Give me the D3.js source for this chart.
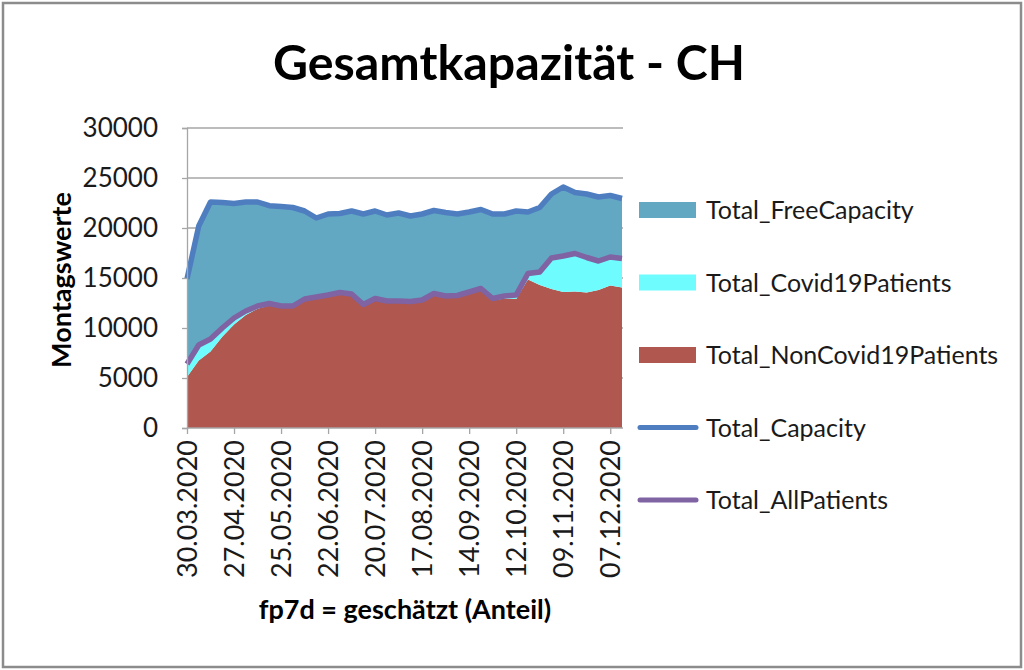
<!DOCTYPE html>
<html>
<head>
<meta charset="utf-8">
<script src="https://cdn.jsdelivr.net/npm/d3@7"></script>
<style>
  html, body { margin: 0; padding: 0; background: #fff; }
  svg { display: block; font-family: Lato, "Open Sans", sans-serif; }
</style>
</head>
<body>
<svg id="chart" width="1024" height="670"></svg>
<script>
const dates = ["30.03.2020","06.04.2020","13.04.2020","20.04.2020","27.04.2020","04.05.2020","11.05.2020","18.05.2020","25.05.2020","01.06.2020","08.06.2020","15.06.2020","22.06.2020","29.06.2020","06.07.2020","13.07.2020","20.07.2020","27.07.2020","03.08.2020","10.08.2020","17.08.2020","24.08.2020","31.08.2020","07.09.2020","14.09.2020","21.09.2020","28.09.2020","05.10.2020","12.10.2020","19.10.2020","26.10.2020","02.11.2020","09.11.2020","16.11.2020","23.11.2020","30.11.2020","07.12.2020","14.12.2020"];
const tickLabels = ["30.03.2020","27.04.2020","25.05.2020","22.06.2020","20.07.2020","17.08.2020","14.09.2020","12.10.2020","09.11.2020","07.12.2020"];
const yTicks = [0,5000,10000,15000,20000,25000,30000];

const nonCovid = [5100,6750,7650,9120,10350,11300,11920,12250,12040,12070,12790,13000,13210,13460,13320,12270,12870,12620,12610,12560,12700,13340,13080,13120,13450,13780,12750,12940,12900,14850,14300,13900,13600,13650,13550,13800,14250,14050];
const covid = [1300,1550,1250,880,650,400,280,200,160,130,110,100,90,90,80,80,80,80,90,90,100,110,120,130,150,170,200,260,400,600,1300,3100,3600,3800,3500,2900,2850,2900];
const freeCap = [8500,11900,13700,12550,11450,10900,10400,9780,9950,9850,8800,7900,8100,7900,8300,9050,8750,8600,8800,8550,8600,8300,8350,8150,8000,7900,8450,8200,8400,6150,6450,6400,6900,6100,6350,6400,6150,6000];
const totalCapacity = [14900,20200,22600,22550,22450,22600,22600,22230,22150,22050,21700,21000,21400,21450,21700,21400,21700,21300,21500,21200,21400,21750,21550,21400,21600,21850,21400,21400,21700,21600,22050,23400,24100,23550,23400,23100,23250,22950];
const allPatients = [6400,8300,8900,10000,11000,11700,12200,12450,12200,12200,12900,13100,13300,13550,13400,12350,12950,12700,12700,12650,12800,13450,13200,13250,13600,13950,12950,13200,13300,15450,15600,17000,17200,17450,17050,16700,17100,16950];

const areaNames = ["Total_FreeCapacity","Total_Covid19Patients","Total_NonCovid19Patients"];
const lineNames = ["Total_Capacity","Total_AllPatients"];
const colors = {
  "Total_FreeCapacity": "#63a8c3",
  "Total_Covid19Patients": "#6ffcff",
  "Total_NonCovid19Patients": "#b0574f",
  "Total_Capacity": "#4f7ec0",
  "Total_AllPatients": "#7f63a3"
};

const rows = dates.map((d, i) => ({
  date: d,
  "Total_NonCovid19Patients": nonCovid[i],
  "Total_Covid19Patients": covid[i],
  "Total_FreeCapacity": freeCap[i]
}));

const svg = d3.select("#chart");
const pLeft = 187, pRight = 623, pTop = 128, pBottom = 428;

// outer frame
svg.append("rect").attr("x", 3).attr("y", 3).attr("width", 1018).attr("height", 664)
  .attr("fill", "#fff").attr("stroke", "#8c8c8c").attr("stroke-width", 2.5);

const x = d3.scalePoint().domain(dates).range([pLeft, pRight - 1]);
const y = d3.scaleLinear().domain([0, 30000]).range([pBottom, pTop]);

// gridlines
svg.append("g").selectAll("line").data(yTicks.filter(v => v > 0)).join("line")
  .attr("x1", pLeft).attr("x2", pRight)
  .attr("y1", d => y(d)).attr("y2", d => y(d))
  .attr("stroke", "#a6a6a6").attr("stroke-width", 1.3);

// stacked areas
const stack = d3.stack().keys(["Total_NonCovid19Patients","Total_Covid19Patients","Total_FreeCapacity"]);
const series = stack(rows);
const area = d3.area().x(d => x(d.data.date)).y0(d => y(d[0])).y1(d => y(d[1]));
svg.append("g").selectAll("path").data(series).join("path")
  .attr("d", area).attr("fill", d => colors[d.key]);

// lines
const line = d3.line().x((d, i) => x(dates[i])).y(d => y(d));
svg.append("path").datum(totalCapacity).attr("d", line).attr("fill", "none")
  .attr("stroke", colors["Total_Capacity"]).attr("stroke-width", 5.5).attr("stroke-linejoin", "round");
svg.append("path").datum(allPatients).attr("d", line).attr("fill", "none")
  .attr("stroke", colors["Total_AllPatients"]).attr("stroke-width", 5.5).attr("stroke-linejoin", "round");

// y axis
const yAxis = d3.axisLeft(y).tickValues(yTicks).tickSize(5).tickPadding(24).tickFormat(d3.format("d"));
const gy = svg.append("g").attr("transform", `translate(${pLeft},0)`).call(yAxis);
gy.select(".domain").attr("stroke", "#a6a6a6").attr("stroke-width", 1.3);
gy.selectAll(".tick line").attr("stroke", "#a6a6a6").attr("stroke-width", 1.3);
gy.selectAll(".tick text").attr("font-size", 26).attr("fill", "#1a1a1a")
  .attr("font-family", "Lato, sans-serif");

// x axis
const xAxis = d3.axisBottom(x).tickValues(tickLabels).tickSize(6).tickSizeOuter(0);
const gx = svg.append("g").attr("transform", `translate(0,${pBottom})`).call(xAxis);
gx.select(".domain").attr("stroke", "#a6a6a6").attr("stroke-width", 1.3).attr("d", `M${pLeft},0H${pRight}`);
gx.selectAll(".tick line").attr("stroke", "#a6a6a6").attr("stroke-width", 1.3);
gx.selectAll(".tick text")
  .attr("font-size", 27).attr("fill", "#1a1a1a").attr("font-family", "Lato, sans-serif")
  .attr("transform", "rotate(-90)")
  .attr("text-anchor", "end")
  .attr("x", -12).attr("y", 0).attr("dy", "0.35em");

// title
svg.append("text").attr("x", 509).attr("y", 80).attr("text-anchor", "middle")
  .attr("font-size", 48).attr("font-weight", "bold").attr("fill", "#000")
  .attr("textLength", 472).attr("lengthAdjust", "spacingAndGlyphs")
  .text("Gesamtkapazität - CH");

// y title
svg.append("text").attr("transform", "translate(71,280) rotate(-90)")
  .attr("text-anchor", "middle").attr("font-size", 27).attr("font-weight", "bold")
  .attr("fill", "#000").text("Montagswerte");

// x title
svg.append("text").attr("x", 405).attr("y", 619).attr("text-anchor", "middle")
  .attr("font-size", 27).attr("font-weight", "bold").attr("fill", "#000")
  .text("fp7d = geschätzt (Anteil)");

// legend
const legendItems = areaNames.concat(lineNames);
const lg = svg.append("g");
legendItems.forEach((name, i) => {
  const cy = 210 + i * 72.5;
  if (areaNames.includes(name)) {
    lg.append("rect").attr("x", 639).attr("y", cy - 8).attr("width", 57).attr("height", 16)
      .attr("fill", colors[name]);
  } else {
    lg.append("line").attr("x1", 640).attr("x2", 696).attr("y1", cy).attr("y2", cy)
      .attr("stroke", colors[name]).attr("stroke-width", 5).attr("stroke-linecap", "round");
  }
  lg.append("text").attr("x", 706).attr("y", cy).attr("dy", "0.36em")
    .attr("font-size", 25).attr("fill", "#1a1a1a").text(name);
});
</script>
</body>
</html>
